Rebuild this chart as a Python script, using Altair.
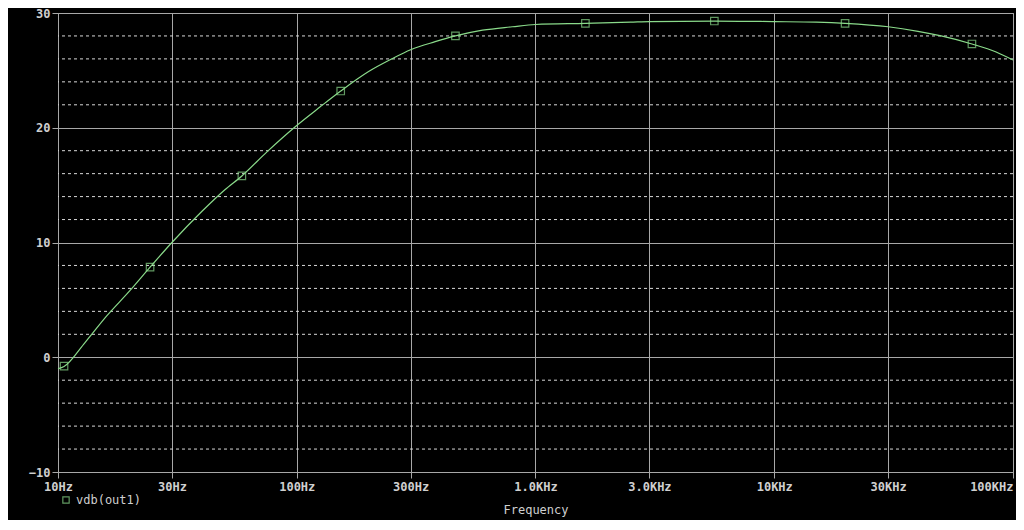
import altair as alt
import pandas as pd

# Curve samples (frequency in Hz, level in dB)
curve_freq = [10, 10.6, 13, 16, 20, 24.3, 30, 40, 50, 58.9, 75, 100, 125, 152.8,
              200, 250, 300, 380, 462, 600, 800, 1000, 1618, 2500, 3000, 5611,
              10000, 15000, 19800, 30000, 40000, 50000, 67300, 85000, 100000]
curve_db = [-1.0, -0.8, 1.3, 3.6, 5.8, 7.85, 10.0, 12.7, 14.6, 15.8, 17.9, 20.2,
            21.8, 23.2, 24.9, 26.0, 26.8, 27.5, 28.0, 28.5, 28.8, 29.0, 29.1,
            29.2, 29.25, 29.3, 29.25, 29.2, 29.1, 28.8, 28.4, 28.0, 27.3, 26.6, 25.9]

# Marker positions
marker_freq = [10.6, 24.3, 58.9, 152.8, 462, 1618, 5611, 19800, 67300]
marker_db = [-0.78, 7.85, 15.8, 23.2, 28.0, 29.1, 29.3, 29.1, 27.3]

x_ticks = [10, 30, 100, 300, 1000, 3000, 10000, 30000, 100000]
x_labels = ["10Hz", "30Hz", "100Hz", "300Hz", "1.0KHz", "3.0KHz", "10KHz", "30KHz", "100KHz"]
y_major = [-10, 0, 10, 20, 30]
y_minor = [-8, -6, -4, -2, 2, 4, 6, 8, 12, 14, 16, 18, 22, 24, 26, 28]

series_name = "vdb(out1)"

curve = pd.DataFrame({"f": curve_freq, "db": curve_db})
markers = pd.DataFrame({"f": marker_freq, "db": marker_db, "s": [series_name] * len(marker_freq)})
minor = pd.DataFrame({"y": y_minor})

label_map = "{" + ",".join(f"'{v}':'{l}'" for v, l in zip(x_ticks, x_labels)) + "}"

GREEN = "#8ada8a"
GRID = "#a8a8a8"
TXT = "#cfcfcf"
FONT = "DejaVu Sans Mono"

xscale = alt.Scale(type="log", domain=[10, 100000], nice=False)
yscale = alt.Scale(domain=[-10, 30], nice=False, zero=False)

xaxis = alt.Axis(values=x_ticks, labelExpr=f"{label_map}[datum.value]",
                 title="Frequency", titleColor=TXT, titleFont=FONT, titleFontSize=12,
                 titleFontWeight="normal", titlePadding=12,
                 labelColor=TXT, labelFont=FONT, labelFontSize=12, labelFontWeight="bold",
                 labelPadding=3, labelFlush=False,
                 labelAlign=alt.condition("datum.value >= 100000", alt.value("right"), alt.value("center")),
                 grid=True, gridColor=GRID, gridWidth=1,
                 domainColor=GRID, tickColor=GRID, tickSize=6)
yaxis = alt.Axis(values=y_major, title=None,
                 labelColor=TXT, labelFont=FONT, labelFontSize=12, labelFontWeight="bold",
                 labelPadding=2,
                 grid=True, gridColor=GRID, gridWidth=1,
                 domainColor=GRID, tickColor=GRID, tickSize=6)

rules = alt.Chart(minor).mark_rule(color="#d8d8d8", strokeDash=[3, 3], strokeWidth=1).encode(
    y=alt.Y("y:Q", scale=yscale, axis=yaxis)
)

line = alt.Chart(curve).mark_line(color=GREEN, strokeWidth=1.2, interpolate="monotone").encode(
    x=alt.X("f:Q", scale=xscale, axis=xaxis),
    y=alt.Y("db:Q", scale=yscale, axis=yaxis),
)

points = alt.Chart(markers).mark_point(shape="square", filled=False, size=56, strokeWidth=1.2).encode(
    x=alt.X("f:Q", scale=xscale, axis=xaxis),
    y=alt.Y("db:Q", scale=yscale, axis=yaxis),
    color=alt.Color("s:N", scale=alt.Scale(range=[GREEN]),
                    legend=alt.Legend(title=None, orient="none", legendX=2, legendY=481,
                                      labelColor=TXT, labelFont=FONT, labelFontSize=12,
                                      symbolType="square", symbolSize=40, symbolFillColor="black",
                                      symbolStrokeWidth=1.2, labelOffset=4)),
)

chart = alt.layer(rules, line, points).properties(
    width=955, height=459,
    background="black",
    padding={"left": 50, "top": 5, "right": 3, "bottom": 48},
    autosize=alt.AutoSizeParams(type="none"),
).configure_view(stroke=GRID, strokeWidth=1, fill="black")

chart.save("out.html", embed_options={"renderer": "svg", "actions": False})
